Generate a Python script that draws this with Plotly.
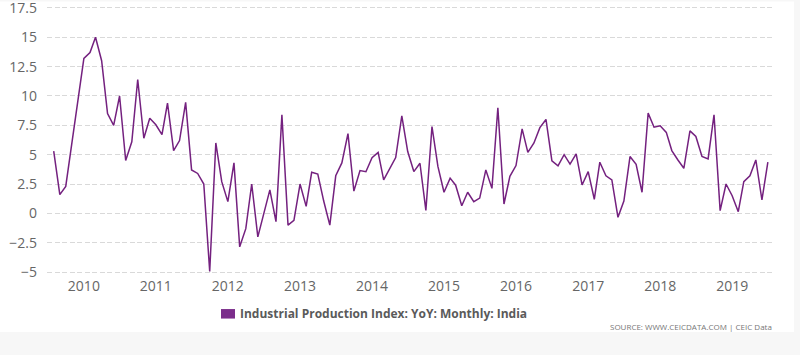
import plotly.graph_objects as go
import pandas as pd

# ---- data ----
series_name = "Industrial Production Index: YoY: Monthly: India"
start_month = "2009-08-01"
values = [
    5.3, 1.6, 2.3, 6.0, 9.7,
    13.2, 13.7, 15.0, 13.0, 8.5, 7.5, 10.0, 4.5, 6.1, 11.4, 6.4, 8.1,
    7.55, 6.7, 9.4, 5.35, 6.2, 9.45, 3.7, 3.4, 2.5, -4.95, 6.0, 2.7,
    1.0, 4.3, -2.85, -1.3, 2.5, -2.0, 0.1, 2.0, -0.7, 8.4, -1.0, -0.6,
    2.5, 0.6, 3.5, 3.35, 1.05, -1.0, 3.2, 4.3, 6.8, 1.9, 3.65, 3.55,
    4.75, 5.2, 2.85, 3.85, 4.75, 8.3, 5.27, 3.56, 4.27, 0.25, 7.4, 4.0,
    1.8, 3.0, 2.4, 0.65, 1.8, 1.0, 1.3, 3.7, 2.13, 9.0, 0.8, 3.15,
    4.07, 7.2, 5.2, 6.0, 7.3, 8.0, 4.47, 4.05, 5.0, 4.2, 5.07, 2.42,
    3.56, 1.2, 4.36, 3.2, 2.85, -0.34, 1.05, 4.84, 4.18, 1.8, 8.54, 7.34,
    7.46, 6.9, 5.35, 4.55, 3.84, 7.03, 6.55, 4.84, 4.64, 8.4, 0.23, 2.5,
    1.5, 0.14, 2.7, 3.2, 4.55, 1.14, 4.36,
]
dates = pd.date_range(start_month, periods=len(values), freq="MS")

x_tick_vals = [f"{y}-01-01" for y in range(2010, 2020)]
x_tick_text = [str(y) for y in range(2010, 2020)]
y_tick_vals = [17.5, 15, 12.5, 10, 7.5, 5, 2.5, 0, -2.5, -5]
y_tick_text = ["17.5", "15", "12.5", "10", "7.5", "5", "2.5", "0", "\u22122.5", "\u22125"]
source_text = "SOURCE: WWW.CEICDATA.COM | CEIC Data"

line_color = "#74217f"
swatch_color = "#7b2d8b"
grid_color = "#d9d9d9"
font_family = "Open Sans"

W, H = 800, 355
L, R, T, B = 47, 28, 5.4, 80
pw, ph = W - L - R, H - T - B


def px(xpix):
    return (xpix - L) / pw


def py(ypix):
    return (H - B - ypix) / ph


fig = go.Figure()
fig.add_trace(go.Scatter(
    x=dates, y=values, mode="lines", name=series_name,
    line=dict(color=line_color, width=1.5), showlegend=False,
))

fig.update_layout(
    width=W, height=H,
    margin=dict(l=L, r=R, t=T, b=B, pad=0, autoexpand=False),
    paper_bgcolor="#f7f7f7",
    plot_bgcolor="#ffffff",
    showlegend=False,
    font=dict(family=font_family, color="#666666", size=14),
    xaxis=dict(
        type="date",
        range=["2009-06-28", "2019-07-22"],
        tickvals=x_tick_vals, ticktext=x_tick_text,
        showgrid=False, zeroline=False, showline=False, ticks="",
        tickfont=dict(family=font_family, size=14, color="#666666"),
        ticklabelstandoff=1, automargin=False, ticklabeloverflow="allow",
    ),
    yaxis=dict(
        range=[-5.25, 17.75],
        tickvals=y_tick_vals, ticktext=y_tick_text,
        showgrid=True, gridcolor=grid_color, griddash="5px,2.5px", gridwidth=1,
        zeroline=False, showline=False, ticks="",
        tickfont=dict(family=font_family, size=14, color="#666666"),
        ticklabelstandoff=9, automargin=False, ticklabeloverflow="allow",
    ),
    shapes=[
        dict(type="rect", xref="paper", yref="paper", layer="below",
             x0=px(0), x1=px(794), y0=py(332), y1=py(2),
             fillcolor="#ffffff", line=dict(width=0)),
        dict(type="rect", xref="paper", yref="paper",
             x0=px(221), x1=px(235), y0=py(318.5), y1=py(309),
             fillcolor=swatch_color, line=dict(width=0)),
    ],
    annotations=[
        dict(text="<b>" + series_name + "</b>", xref="paper", yref="paper",
             x=px(238), y=py(313.5), xanchor="left", yanchor="middle",
             showarrow=False, font=dict(family=font_family, size=12, color="#5a5a5a")),
        dict(text=source_text, xref="paper", yref="paper",
             x=px(774), y=py(326), xanchor="right", yanchor="middle",
             showarrow=False, font=dict(family=font_family, size=8, color="#777777")),
    ],
)

fig.write_html(
    "out.html",
    config={"displayModeBar": False},
    post_script="document.body.style.margin='0';document.body.style.overflow='hidden';",
)
